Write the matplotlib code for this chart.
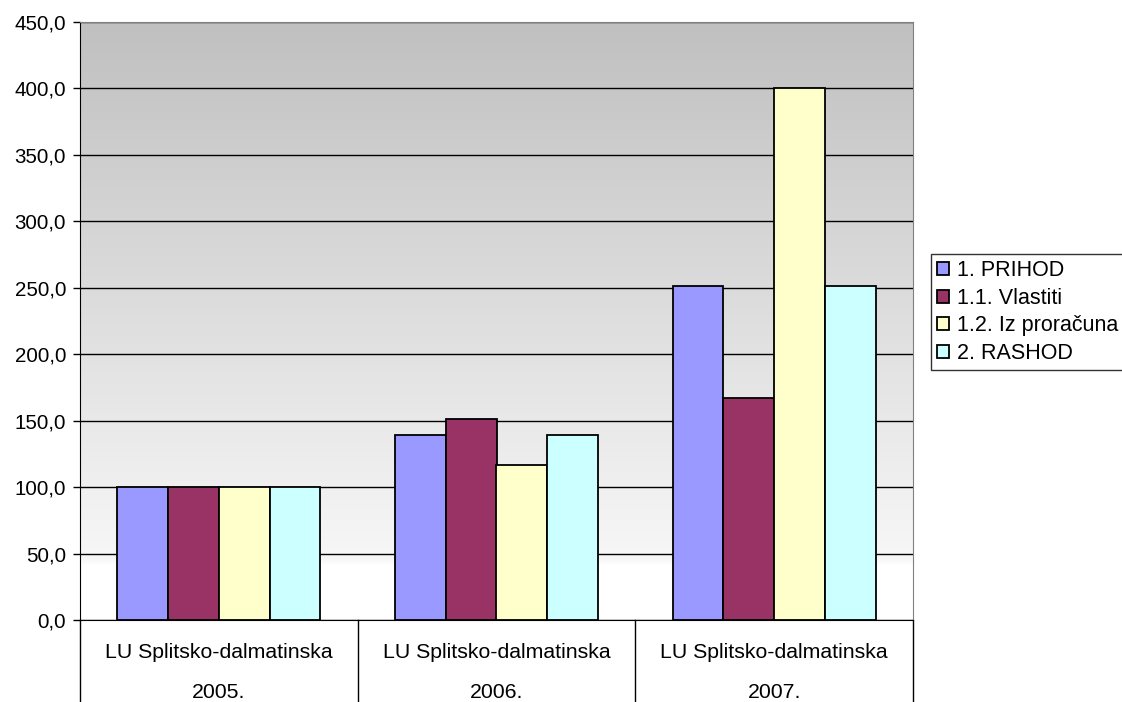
import numpy as np
import matplotlib
matplotlib.use("Agg")
import matplotlib.pyplot as plt
from matplotlib.colors import LinearSegmentedColormap
from matplotlib.ticker import FuncFormatter
import matplotlib.transforms as mtransforms

plt.rcParams["font.family"] = ["Liberation Sans", "DejaVu Sans"]

# --------------------------- DATA --------------------------- #
categories = ["LU Splitsko-dalmatinska", "LU Splitsko-dalmatinska", "LU Splitsko-dalmatinska"]
years = ["2005.", "2006.", "2007."]
series_names = ["1. PRIHOD", "1.1. Vlastiti", "1.2. Iz proračuna", "2. RASHOD"]
prihod = [100.0, 139.0, 251.0]
vlastiti = [100.0, 151.5, 167.0]
iz_proracuna = [100.0, 116.5, 400.0]
rashod = [100.0, 139.0, 251.0]
series_colors = ["#9999ff", "#993366", "#ffffcc", "#ccffff"]

# --------------------------- PLOT --------------------------- #
fig = plt.figure(figsize=(11.22, 7.02), dpi=100)
ax = fig.add_axes([80 / 1122, 1 - 620 / 702, 833 / 1122, 598 / 702])

ax.set_xlim(0, 3)
ax.set_ylim(0, 450)

# gradient background (gray at top -> white at bottom)
cmap = LinearSegmentedColormap.from_list(
    "bg", [(0.0, "#ffffff"), (0.09, "#ffffff"), (0.1, "#f7f7f7"), (1.0, "#c0c0c0")]
)
grad = np.linspace(0, 1, 256).reshape(-1, 1)
ax.imshow(grad, extent=[0, 3, 0, 450], origin="lower", aspect="auto", cmap=cmap, zorder=0)

ax.set_yticks(np.arange(0, 451, 50))
ax.yaxis.set_major_formatter(FuncFormatter(lambda v, p: f"{v:.1f}".replace(".", ",")))
ax.grid(axis="y", color="black", linewidth=1.0, zorder=1)
ax.set_axisbelow(True)

all_series = [prihod, vlastiti, iz_proracuna, rashod]
width = 0.1826
x = np.arange(len(years)) + 0.5
for i, (vals, name, col) in enumerate(zip(all_series, series_names, series_colors)):
    ax.bar(x + (i - 1.5) * width, vals, width=width, color=col, edgecolor="black",
           linewidth=1.3, label=name, zorder=3)

ax.set_xticks([])
ax.tick_params(axis="y", direction="out", length=5, width=1, labelsize=14.8, colors="black", pad=5)

for side in ["top", "right"]:
    ax.spines[side].set_color("#808080")
ax.spines["left"].set_color("black")
ax.spines["bottom"].set_color("black")

# category table below the axis
trans = mtransforms.blended_transform_factory(ax.transData, ax.transAxes)
for sep in range(len(years) + 1):
    ax.plot([sep, sep], [0, -0.14], transform=trans, color="black", linewidth=1, clip_on=False)
for xi, cat, yr in zip(x, categories, years):
    ax.text(xi, -0.054, cat, transform=trans, ha="center", va="center", fontsize=15.3)
    ax.text(xi, -0.122, yr, transform=trans, ha="center", va="center", fontsize=15.3)

leg = fig.legend(loc="upper left", bbox_to_anchor=(931 / 1122, 1 - 254 / 702), fontsize=15.5,
                 frameon=True, fancybox=False, handlelength=0.55, handleheight=0.55,
                 handletextpad=0.35, labelspacing=0.3, borderpad=0.3, borderaxespad=0)
leg.get_frame().set_edgecolor("black")
leg.get_frame().set_linewidth(1)

plt.savefig("out.png", dpi=100)
